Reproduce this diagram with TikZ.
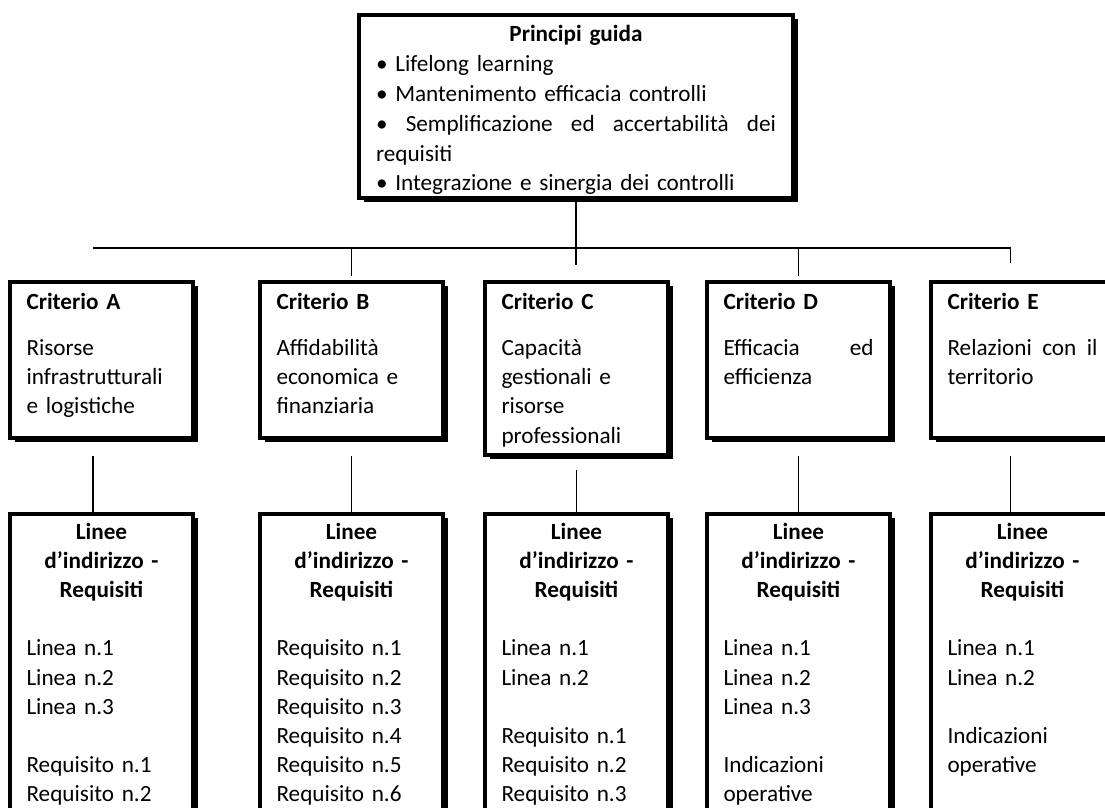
\documentclass[tikz,border=0pt]{standalone}
\usepackage{fontspec}
\setmainfont{Carlito}
\usetikzlibrary{shadows}

\newcommand{\testata}{\makebox[\linewidth][c]{\bfseries Linee}\\
  \makebox[\linewidth][c]{\bfseries d’indirizzo -}\\
  \makebox[\linewidth][c]{\bfseries Requisiti}}

\begin{document}
\begin{tikzpicture}[x=0.5pt, y=-0.5pt,
  every node/.style={font=\fontsize{11.6}{14.6}\selectfont},
  box/.style={draw, line width=2pt, fill=white, anchor=north west, align=left,
    inner ysep=0pt, inner xsep=8.25pt, text width=75pt,
    drop shadow={shadow xshift=2.5pt, shadow yshift=-2pt, fill=black, opacity=1}},
  critbox/.style={box, text height=13.75pt, text depth=64.25pt},
  reqbox/.style={box, text height=12.5pt, text depth=150pt},
  link/.style={line width=0.8pt}]
  \useasboundingbox (0,0) rectangle (1105,808);
  \clip (0,0) rectangle (1105,808);

  % principi guida
  \node[box, font=\fontsize{11.6}{14.9}\selectfont, text width=200pt, inner xsep=8.5pt,
    text height=13.5pt, text depth=78pt] (guida) at (357,13)
    {\makebox[\linewidth][c]{\bfseries Principi guida}\\
     • Lifelong learning\\
     • Mantenimento efficacia controlli\\
     •\hfill Semplificazione\hfill ed\hfill accertabilità\hfill dei\\
     requisiti\\
     • Integrazione e sinergia dei controlli};

  % criteri
  \node[critbox] (critA) at (8,280) {\textbf{Criterio A}\\[8.4pt] Risorse\\ infrastrutturali\\ e logistiche};
  \node[critbox] (critB) at (258,280) {\textbf{Criterio B}\\[8.4pt] Affidabilità\\ economica e\\ finanziaria};
  \node[critbox, text depth=72.75pt] (critC) at (483,280) {\textbf{Criterio C}\\[8.4pt] Capacità\\ gestionali e\\ risorse\\ professionali};
  \node[critbox] (critD) at (705,280) {\textbf{Criterio D}\\[8.4pt] Efficacia\hfill ed\\ efficienza};
  \node[critbox] (critE) at (929,280) {\textbf{Criterio E}\\[8.4pt] Relazioni\hfill con\hfill il\\ territorio};

  % linee d'indirizzo e requisiti
  \node[reqbox] (reqA) at (8,512) {\testata\\[14.6pt] Linea n.1\\ Linea n.2\\ Linea n.3\\[14.6pt] Requisito n.1\\ Requisito n.2};
  \node[reqbox] (reqB) at (258,512) {\testata\\[14.6pt] Requisito n.1\\ Requisito n.2\\ Requisito n.3\\ Requisito n.4\\ Requisito n.5\\ Requisito n.6};
  \node[reqbox] (reqC) at (483,512) {\testata\\[14.6pt] Linea n.1\\ Linea n.2\\[14.6pt] Requisito n.1\\ Requisito n.2\\ Requisito n.3};
  \node[reqbox] (reqD) at (705,512) {\testata\\[14.6pt] Linea n.1\\ Linea n.2\\ Linea n.3\\[14.6pt] Indicazioni\\ operative};
  \node[reqbox] (reqE) at (929,512) {\testata\\[14.6pt] Linea n.1\\ Linea n.2\\[14.6pt] Indicazioni\\ operative};

  % collegamenti
  \coordinate (hl) at (93,248);
  \coordinate (eTop) at ([xshift=-6pt]critE.north);
  \draw[link, shorten >=7.5pt] (guida.south) -- (guida.south |- critC.north);
  \draw[link, shorten >=8.5pt] (hl) -| (eTop);
  \draw[link, shorten >=2pt] (hl -| critB.north) -- (critB.north);
  \draw[link, shorten >=2pt] (hl -| critD.north) -- (critD.north);

  \draw[link, shorten <=8pt] ([xshift=-4.25pt]critA.south) -- ([xshift=-4.25pt]reqA.north);
  \draw[link, shorten <=8pt] (critB.south) -- (reqB.north);
  \draw[link, shorten <=6.5pt] (critC.south) -- (reqC.north);
  \draw[link, shorten <=8pt] (critD.south) -- (reqD.north);
  \draw[link, shorten <=8pt] ([xshift=-6pt]critE.south) -- ([xshift=-6pt]reqE.north);
\end{tikzpicture}
\end{document}
